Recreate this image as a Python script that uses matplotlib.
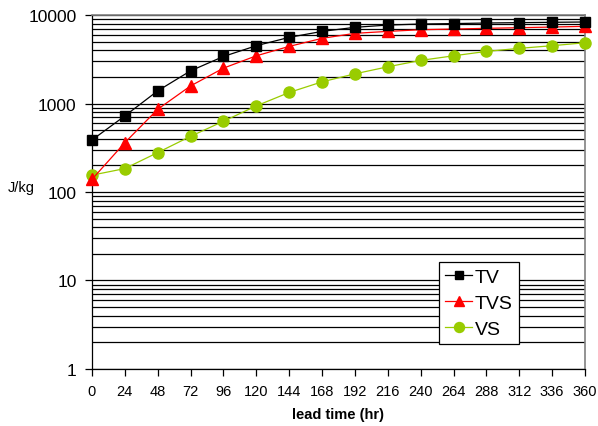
import matplotlib
matplotlib.use("Agg")
import matplotlib.pyplot as plt
from matplotlib.ticker import FixedLocator, NullFormatter

plt.rcParams['font.family'] = ['Liberation Sans', 'DejaVu Sans']

lead_time = [0, 24, 48, 72, 96, 120, 144, 168, 192, 216, 240, 264, 288, 312, 336, 360]
tv = [387, 724, 1390, 2340, 3400, 4500, 5590, 6530, 7260, 7700, 7910, 8000, 8120, 8200, 8270, 8340]
tvs = [139, 361, 861, 1580, 2510, 3460, 4420, 5450, 6210, 6530, 6820, 6940, 7070, 7190, 7310, 7450]
vs = [155, 184, 279, 426, 630, 940, 1333, 1758, 2165, 2600, 3070, 3460, 3880, 4200, 4500, 4860]
y_ticks = [1, 10, 100, 1000, 10000]
y_tick_labels = ["1", "10", "100", "1000", "10000"]

fig = plt.figure(figsize=(5.98, 4.27), dpi=100)
ax = fig.add_axes([0.1538, 0.1335, 0.8245, 0.829])

ax.set_yscale('log')
ax.set_xlim(0, 360)
ax.set_ylim(1, 10000)

# gridlines at all decades and sub-decades
minor = [m * 10**e for e in range(0, 4) for m in range(2, 10)]
for v in y_ticks + minor:
    ax.axhline(v, color='black', lw=0.9, zorder=1)

ax.plot(lead_time, tv, color='black', lw=0.9, marker='s', ms=7, mfc='black', mec='black',
        label='TV', zorder=5, clip_on=False)
ax.plot(lead_time, tvs, color='#FF0000', lw=0.9, marker='^', ms=8, mfc='#FF0000', mec='#FF0000',
        label='TVS', zorder=4, clip_on=False)
ax.plot(lead_time, vs, color='#99CC00', lw=0.9, marker='o', ms=8, mfc='#99CC00', mec='#99CC00',
        label='VS', zorder=3, clip_on=False)

ax.set_xticks(lead_time)
ax.set_xticklabels([str(t) for t in lead_time], fontsize=10.5)
ax.yaxis.set_major_locator(FixedLocator(y_ticks))
ax.set_yticklabels(y_tick_labels, fontsize=12.5)
ax.yaxis.set_minor_formatter(NullFormatter())
ax.tick_params(axis='y', which='minor', length=0)
ax.tick_params(axis='both', which='major', direction='out', length=5, width=0.9, color='black', pad=6)

for s in ['left', 'bottom']:
    ax.spines[s].set_color('black')
    ax.spines[s].set_linewidth(0.9)
for s in ['right', 'top']:
    ax.spines[s].set_color('#808080')
    ax.spines[s].set_linewidth(1.2)

ax.set_xlabel('lead time (hr)', fontsize=10.5, fontweight='bold', labelpad=6)
fig.text(8 / 598, 1 - 188 / 427, 'J/kg', fontsize=10.5, va='center', ha='left')

leg = ax.legend(loc='upper left', bbox_to_anchor=(0.704, 0.302),
                fontsize=14, frameon=True, fancybox=False, edgecolor='black', framealpha=1,
                handlelength=1.4, handletextpad=0.15, borderpad=0.3, labelspacing=0.45,
                borderaxespad=0, markerscale=0.9)
leg.get_frame().set_linewidth(0.9)
leg.set_zorder(10)

fig.savefig('out.png', dpi=100)
